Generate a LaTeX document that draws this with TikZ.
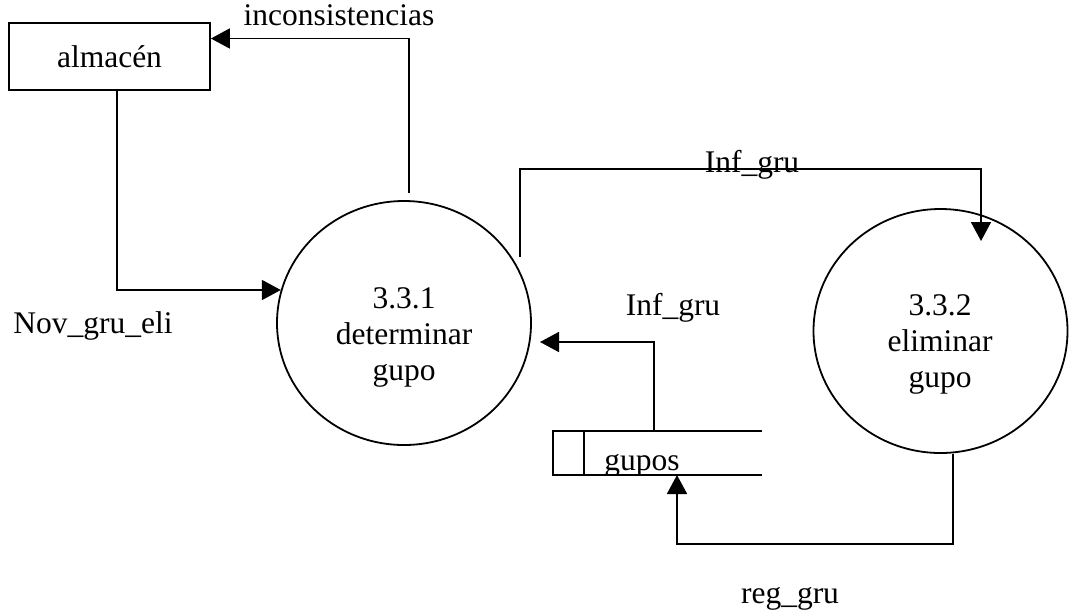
\documentclass[tikz,border=0pt]{standalone}
\usepackage{fontspec}
\setmainfont{Liberation Serif}
\usetikzlibrary{shapes.geometric,arrows.meta}

\begin{document}
\begin{tikzpicture}[x=1pt,y=-1pt,>={Triangle[length=19pt,width=20pt]},line width=1.8pt,
    every node/.style={font=\fontsize{31.5}{36}\selectfont},
    proc/.style={draw, shape=ellipse, minimum width=254pt, minimum height=244pt, inner sep=0pt},
    ent/.style={draw, shape=rectangle, minimum width=201pt, minimum height=67pt, inner sep=0pt},
    store/.style={shape=rectangle, minimum width=209pt, minimum height=44pt, inner sep=0pt, outer sep=0pt}]
    \useasboundingbox (0,0) rectangle (1073,614);
    \node[ent] (alm) at (109.5,56.5) {almacén};
    \node[proc] (p1) at (404,323) {};
    \node[proc] (p2) at (940.5,331) {};
    \node[align=center] (t1) at (404,337) {3.3.1\\determinar\\gupo};
    \node[align=center] (t2) at (940,344) {3.3.2\\eliminar\\gupo};
    \node[store] (st) at (657.5,453) {};
    \draw (st.north east) -- (st.north west) -- (st.south west) -- (st.south east);
    \draw ([xshift=31pt]st.north west) -- ([xshift=31pt]st.south west);
    \begin{scope}
        \clip ([xshift=31pt]st.north west) rectangle ([yshift=1pt]st.south east);
        \node[anchor=base] (gup) at (642,470) {gupos};
    \end{scope}
    \coordinate (a1) at (409,193);
    \coordinate (a2) at (520,257);
    \coordinate (a3) at (981,241);
    \coordinate (a4) at (540,342);
    \draw[->] ([xshift=7.5pt]alm.south) |- (p1.165);
    \draw[->] (a1) |- ([yshift=18pt]alm.east);
    \draw[->] (a2) -- ++(0,-88) -| (a3);
    \draw[->] ([xshift=-3.5pt]st.north) |- (a4);
    \draw[->] ([xshift=12.5pt]p2.south) -- ++(0,90) -| ([xshift=19.5pt]st.south);
    \node[anchor=base] (l1) at (339,25) {inconsistencias};
    \node[anchor=base] (l2) at (93,333) {Nov\_gru\_eli};
    \node[anchor=base] (l3) at (752,172) {Inf\_gru};
    \node[anchor=base] (l4) at (673,315) {Inf\_gru};
    \node[anchor=base] (l5) at (790,603) {reg\_gru};
\end{tikzpicture}
\end{document}
